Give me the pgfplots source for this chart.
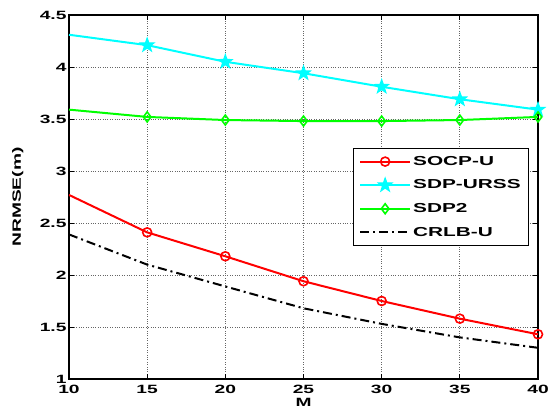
\documentclass[border=0pt]{standalone}
\usepackage{pgfplots}
\pgfplotsset{compat=1.18}
\usepackage{fontspec}
\setmainfont[FakeStretch=1.6]{Liberation Sans}
\definecolor{mred}{rgb}{1,0,0}
\definecolor{mcyan}{rgb}{0,1,1}
\definecolor{mgreen}{rgb}{0,1,0}
% five-pointed star, as MATLAB draws 'p'
\pgfdeclareplotmark{pstar}{%
  \pgfpathmoveto{\pgfpointpolar{90}{\pgfplotmarksize}}%
  \foreach \a in {1,...,4}{%
    \pgfpathlineto{\pgfpointpolar{90+72*\a-36}{0.4*\pgfplotmarksize}}%
    \pgfpathlineto{\pgfpointpolar{90+72*\a}{\pgfplotmarksize}}}%
  \pgfpathlineto{\pgfpointpolar{54}{0.4*\pgfplotmarksize}}%
  \pgfpathclose
  \pgfusepathqfillstroke}
\begin{document}
\begin{tikzpicture}
\begin{axis}[
    scale only axis,
    width=469pt, height=364pt,
    xmin=10, xmax=40, ymin=1, ymax=4.5,
    xtick={10,15,...,40},
    ytick={1,1.5,...,4.5},
    grid=major,
    major grid style={dotted, black!60, line width=0.7pt},
    tick align=inside,
    major tick length=5pt,
    axis line style={line width=1.2pt},
    tick style={line width=0.9pt, black},
    font=\fontsize{12}{14}\selectfont\bfseries,
    /pgf/number format/assume math mode=true,
    xticklabel style={yshift=-3pt},
    yticklabel style={xshift=1pt},
    xlabel={M}, ylabel={NRMSE(m)},
    xlabel style={at={(axis description cs:0.5,-0.064)}, anchor=center},
    ylabel style={at={(axis description cs:-0.109,0.5)}, anchor=center},
    legend style={at={(0.981,0.635)}, anchor=north east, draw=black,
        line width=0.9pt, inner xsep=6pt, inner ysep=6pt, row sep=9pt,
        font=\fontsize{13}{15}\selectfont\bfseries},
    legend cell align=left,
    legend image code/.code={%
        \draw[mark repeat=2, mark phase=2, #1]
        plot coordinates {(0pt,0pt) (25pt,0pt) (50pt,0pt)};},
    every axis plot/.append style={line width=2pt},
    mark phase=2,
]
\addplot[mred, mark=o, mark size=4.5pt, mark options={solid, line width=1.6pt}]
coordinates {(10,2.77)(15,2.41)(20,2.18)(25,1.94)(30,1.75)(35,1.58)(40,1.43)};
\addlegendentry{SOCP-U}
\addplot[mcyan, mark=pstar, mark size=7pt, mark options={solid, fill=mcyan, line width=1.2pt}]
coordinates {(10,4.31)(15,4.21)(20,4.05)(25,3.94)(30,3.81)(35,3.69)(40,3.59)};
\addlegendentry{SDP-URSS}
\addplot[mgreen, mark=diamond, mark size=5pt, mark options={solid, line width=1.6pt}]
coordinates {(10,3.59)(15,3.52)(20,3.49)(25,3.48)(30,3.48)(35,3.49)(40,3.52)};
\addlegendentry{SDP2}
\addplot[black, dash pattern=on 9pt off 4pt on 2pt off 4pt]
coordinates {(10,2.39)(15,2.10)(20,1.89)(25,1.68)(30,1.53)(35,1.40)(40,1.30)};
\addlegendentry{CRLB-U}
\end{axis}
\pgfresetboundingbox
\path ([shift={(-69pt,-33pt)}]current axis.south west)
  rectangle ([shift={(10pt,15pt)}]current axis.north east);
\end{tikzpicture}
\end{document}
